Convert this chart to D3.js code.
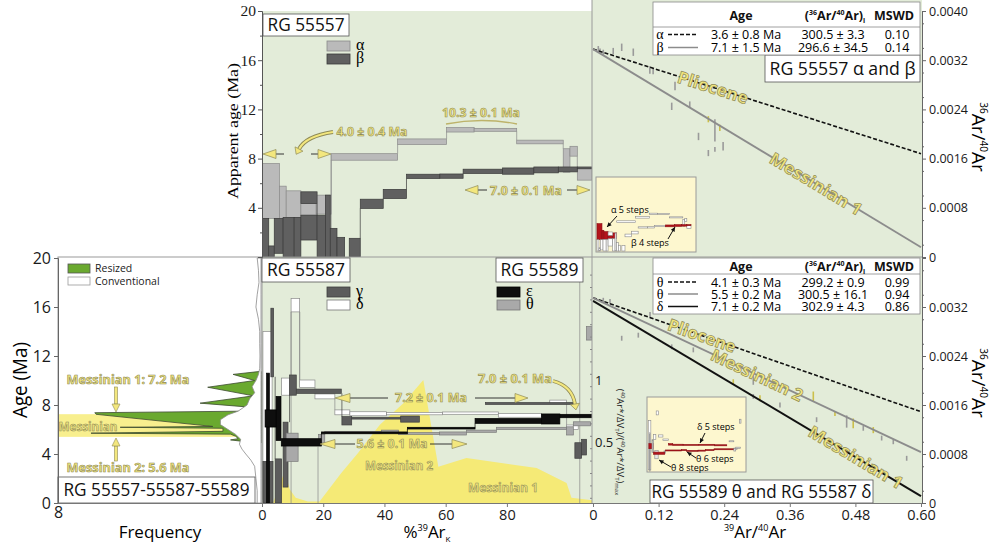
<!DOCTYPE html>
<html>
<head>
<meta charset="utf-8">
<script src="https://cdn.jsdelivr.net/npm/d3@7/dist/d3.min.js"></script>
<style>
body{margin:0;background:#fff;}
svg{display:block;font-family:'Open Sans',sans-serif;}
</style>
</head>
<body>
<svg id="chart" width="996" height="544"></svg>
<script>
// ================= DATA =================
const ageTicks = [0, 4, 8, 12, 16, 20];
const topAgeTicks = [4, 8, 12, 16, 20];
const pctTicks = [0, 20, 40, 60, 80];
const isoXTicks = [0, 0.12, 0.24, 0.36, 0.48, 0.6];
const isoYTicks = [0, 0.0008, 0.0016, 0.0024, 0.0032, 0.004];
const freqTicks = [8, 0];
const relTicks = [0.5, 1];

// age-spectrum steps: [start %39Ar, end %39Ar, age low (Ma), age high (Ma)]
const alphaSteps = [
  [0.0,5.7,3.14,7.6],[5.7,7.9,3.06,5.76],[7.9,12.7,3.22,5.38],[12.7,17.7,3.4,4.35],
  [17.7,22.6,3.49,5.03],[22.6,44.3,7.87,8.4],[44.3,60.3,9.14,9.6],[60.3,69.3,10.16,10.52],
  [69.3,83.2,10.22,10.46],[83.2,98.4,9.2,9.5],[98.4,100.6,6.9,8.8],[100.6,103.0,8.2,9.0],
  [103.0,107.8,6.25,7.2]
];
const betaSteps = [
  [0.0,2.2,0,3.14],[2.2,4.0,0,0.9],[4.0,6.9,0.3,3.14],[6.9,10.5,0,3.22],[10.5,12.7,0,3.22],
  [12.7,18.0,1.38,3.4],[12.7,18.0,4.35,5.3],[18.0,20.7,0,3.4],[20.7,22.3,0,5.03],[22.3,24.5,0,2.33],
  [24.5,27.0,0,1.6],[28.5,32.1,0,1.52],[32.1,39.6,3.95,4.7],[39.6,47.2,4.75,5.5],
  [47.2,58.1,6.38,6.73],[58.1,65.7,6.4,6.75],[65.7,78.6,6.79,7.14],[78.6,88.8,6.73,7.24],
  [88.8,96.8,6.84,7.32],[96.8,103.0,6.92,7.32],[103.0,107.8,7.17,7.32]
];
const gammaSteps = [
  [0.3,3.6,0,3.4],[2.9,3.8,10.3,15.9],[4.3,6.4,0,3.6],[6.9,8.5,1.3,6.6],[9.0,11.2,8.8,10.45],
  [11.2,25.9,8.95,9.3],[26.1,29.3,6.37,7.05],[29.3,45.3,6.85,7.0],[45.3,51.4,6.6,7.1],
  [73.0,101.6,8.05,8.2],[102.2,104.4,3.65,4.92],[104.4,106.0,3.92,5.2]
];
const deltaSteps = [
  [0.3,3.3,0.3,14.0],[6.4,9.1,8.8,10.2],[9.5,12.3,15.6,16.7],[12.3,17.3,9.44,10.04],
  [17.3,23.8,8.5,8.9],[23.8,28.7,7.2,7.6],[28.7,40.7,7.12,7.45],[40.7,59.0,7.2,7.4],
  [59.0,77.2,7.24,7.43],[77.2,91.3,7.0,7.3],[94.0,99.5,8.14,8.4],[99.5,103.3,6.0,6.37]
];
const epsilonSteps = [
  [1.5,2.4,0,10.6],[1.0,5.9,6.2,7.6],[4.6,6.2,5.1,8.7],[6.3,19.4,4.65,5.25],
  [19.4,47.5,5.65,5.8],[47.5,69.6,6.04,6.18],[69.6,91.3,6.5,6.9],[91.3,97.3,6.45,7.27],
  [97.3,107.8,6.96,7.24]
];
const thetaSteps = [
  [7.9,11.8,3.4,5.7],[18.5,20.5,4.9,5.6],[20.5,39.0,5.7,5.85],[39.0,44.6,5.74,5.95],
  [44.6,58.0,5.6,5.75],[58.0,66.8,5.55,5.8],[66.8,76.6,5.77,5.95],[76.6,99.5,6.0,6.18],
  [99.5,101.7,5.55,6.22],[101.7,107.3,6.3,6.63],[106.0,107.8,13.3,14.4]
];
// vertical step-outline guides: [%39Ar, age from, age to]
const topGuides = [[22.6,0,8.4]];
const botGuides = [[103.8,0,18.3],[18.3,0,4.6],[9.5,0,15.6],[12.3,9.44,15.6]];

// normalised release (40Ar*/dVT)/(40Ar*/dVT)max vs %39Ar
const relRelease = [
  [0,0],[3.5,0],[5.0,0.1],[7.5,0.27],[9.0,0.12],[11,0.05],[15,0.02],[18.8,0.02],[25.9,0.25],
  [31.3,0.41],[38.5,0.64],[46.1,0.81],[52.7,1.0],[57.6,0.3],[66.8,0.37],[89.7,0.29],
  [99.5,0.17],[101.1,0.05],[107.8,0.03],[107.8,0]
];

// frequency curves: [age (Ma), frequency]
const resizedFreq = [
  [10.75,0],[10.5,1.1],[10.0,0.25],[9.45,2.1],[8.75,0.3],[8.15,2.4],[7.8,0.3],[7.5,0.6],
  [7.37,6.55],[7.24,6.5],[6.4,2.6],[6.25,1.9],[6.18,5.55],[6.1,1.5],[5.85,1.5],[5.7,6.7],
  [5.62,1.2],[5.45,1.0],[5.25,0.9],[5.15,1.2],[5.05,0.8],[4.9,0]
];
const conventionalFreq = [
  [20,0.15],[19,0.1],[18,0.08],[17,0.15],[16,0.2],[15,0.1],[14,0.05],[13,0.05],[12,0.04],
  [11,0.05],[10.5,0.1],[10,0.2],[9.5,0.35],[9,0.25],[8.5,0.45],[8,0.55],[7.5,0.9],[7.2,1.3],
  [6.8,1.6],[6.4,1.6],[6.0,1.3],[5.6,1.0],[5.2,0.8],[4.8,0.85],[4.4,0.75],[4.0,0.6],
  [3.5,0.4],[3.0,0.25],[2.0,0.2],[1.0,0.15],[0,0.15]
];

// isochron lines: [x0, y0, x1, y1, style]
const topIsoLines = [
  [0,0.00338,0.6,0.00168,'dash'],
  [0,0.00338,0.6,0.00016,'grey']
];
const botIsoLines = [
  [0,0.00335,0.6,0.00149,'dash'],
  [0,0.00335,0.6,0.00083,'grey'],
  [0,0.00330,0.6,0.000114,'black']
];
// line labels: [line index, x position (39Ar/40Ar), text, length px]
const topLineLabels = [[0,0.2195,'Pliocene',73],[1,0.408,'Messinian 1',105]];
const botLineLabels = [[0,0.1994,'Pliocene',71],[1,0.30,'Messinian 2',100],[2,0.481,'Messinian 1',107]];

// isochron data points: [39Ar/40Ar, 36Ar/40Ar, half error, highlighted]
const topIsoPts = [
  [0.0097,0.00338,0.00005,0],[0.0128,0.00335,0.00004,0],[0.0188,0.00333,0.00004,0],
  [0.037,0.00335,0.00005,0],[0.0525,0.00341,0.00006,0],[0.0737,0.00333,0.00006,0],
  [0.104,0.00304,0.00006,0],[0.110,0.00302,0.00005,0],[0.150,0.00278,0.00007,0],
  [0.144,0.00245,0.00006,0],[0.177,0.00248,0.00005,0],[0.211,0.00224,0.00005,1],
  [0.223,0.00206,0.00018,0],[0.232,0.0021,0.00005,1],[0.193,0.00196,0.00006,0],
  [0.211,0.00169,0.00005,0],[0.223,0.00175,0.00004,0],[0.238,0.0018,0.00007,0]
];
const botIsoPts = [
  [0.0188,0.00331,0.00004,0],[0.0311,0.00329,0.00004,0],[0.0525,0.00269,0.00004,0],
  [0.0829,0.00274,0.00004,0],[0.1043,0.00307,0.00005,0],[0.144,0.00255,0.00004,0],
  [0.1835,0.0025,0.00004,0],[0.2566,0.00198,0.00004,1],[0.2932,0.00201,0.00008,0],
  [0.3054,0.00171,0.00005,1],[0.342,0.0016,0.00004,0],[0.403,0.00174,0.00008,1],
  [0.409,0.00136,0.00004,0],[0.4426,0.00146,0.00004,1],[0.464,0.00133,0.0001,0],
  [0.476,0.0013,0.00008,1],[0.4944,0.00122,0.00004,0],[0.5127,0.00119,0.00005,1],
  [0.528,0.00106,0.00004,0],[0.5493,0.001,0.00004,0],[0.5738,0.00073,0.00004,0],
  [0.2932,0.00174,0.00004,0]
];

// tables
const topTableRows = [['α','dash','3.6 ± 0.8 Ma','300.5 ± 3.3','0.10'],['β','grey','7.1 ± 1.5 Ma','296.6 ± 34.5','0.14']];
const botTableRows = [['θ','dash','4.1 ± 0.3 Ma','299.2 ± 0.9','0.99'],['θ','grey','5.5 ± 0.2 Ma','300.5 ± 16.1','0.94'],['δ','black','7.1 ± 0.2 Ma','302.9 ± 4.3','0.86']];

// ================= SCALES =================
const svg = d3.select('#chart');
const xPct = d3.scaleLinear([0,107.8],[262,592]);
const yTop = d3.scaleLinear([0,20],[257,11]);
const yBot = d3.scaleLinear([0,20],[503,258]);
const yRel = d3.scaleLinear([0,1],[504,380]);
const xIso = d3.scaleLinear([0,0.6],[593,921]);
const yIsoTop = d3.scaleLinear([0,0.004],[257,11]);
const yIsoBot = d3.scaleLinear([0,0.004],[503,258]);
const xFreq = d3.scaleLinear([0,8],[261,58]);

const GREEN_BG = '#e3ecd9';
const YEL = '#f3e77e';
const YEL_STROKE = '#8e8a56';

// ================= BACKGROUNDS =================
const bg = svg.append('g');
bg.append('rect').attr('x',262).attr('y',11).attr('width',330).attr('height',246).attr('fill',GREEN_BG);
bg.append('rect').attr('x',592).attr('y',0).attr('width',330).attr('height',257).attr('fill',GREEN_BG);
bg.append('rect').attr('x',262).attr('y',257).attr('width',330).attr('height',246).attr('fill',GREEN_BG);
bg.append('rect').attr('x',592).attr('y',257).attr('width',330).attr('height',246).attr('fill',GREEN_BG);
bg.append('rect').attr('x',58).attr('y',257).attr('width',204).attr('height',246).attr('fill','#fff').attr('stroke','#999');

const defs = svg.append('defs');
function clip(id,x,y,w,h){defs.append('clipPath').attr('id',id).append('rect').attr('x',x).attr('y',y).attr('width',w).attr('height',h);}
clip('cTop',262,11,330,246); clip('cBot',262,257,330,246);
clip('cIsoTop',592,0,330,257); clip('cIsoBot',592,257,330,246);
clip('cFreq',58,257,204,246);

// ================= FREQUENCY PANEL =================
const fq = svg.append('g').attr('clip-path','url(#cFreq)');
fq.append('rect').attr('x',xFreq(8)).attr('y',yBot(7.25)).attr('width',xFreq(0)-xFreq(8)).attr('height',yBot(5.4)-yBot(7.25)).attr('fill','#f8ef8e');
const freqArea = d3.area().y(d=>yBot(d[0])).x0(xFreq(0)).x1(d=>xFreq(d[1]));
fq.append('path').datum(resizedFreq).attr('d',freqArea).attr('fill','#6aa92f').attr('stroke','#3c4a30').attr('stroke-width',0.8);
fq.append('path').datum(conventionalFreq).attr('d',freqArea).attr('fill','#fff').attr('stroke','#8a8a8a').attr('stroke-width',0.8);

// ================= BOTTOM SPECTRA =================
const bs = svg.append('g').attr('clip-path','url(#cBot)');
bs.append('path').datum(relRelease).attr('d',d3.area().x(d=>xPct(d[0])).y0(yRel(0)).y1(d=>yRel(d[1]))).attr('fill','#f5ea76');

function drawSteps(layer, steps, yS, fill, stroke, sw){
  layer.selectAll(null).data(steps).enter().append('rect')
    .attr('x',d=>xPct(d[0])).attr('y',d=>yS(d[3]))
    .attr('width',d=>Math.max(0.8,xPct(d[1])-xPct(d[0])))
    .attr('height',d=>Math.max(0.8,yS(d[2])-yS(d[3])))
    .attr('fill',fill).attr('stroke',stroke).attr('stroke-width',sw||0.7);
  const conn=[];
  for(let i=1;i<steps.length;i++){
    const p=steps[i-1],c=steps[i];
    if(Math.abs(c[0]-p[1])<0.6){
      if(c[2]>p[3]) conn.push([c[0],p[3],c[2]]);
      else if(c[3]<p[2]) conn.push([c[0],c[3],p[2]]);
    }
  }
  layer.selectAll(null).data(conn).enter().append('line')
    .attr('x1',d=>xPct(d[0])).attr('x2',d=>xPct(d[0]))
    .attr('y1',d=>yS(d[1])).attr('y2',d=>yS(d[2]))
    .attr('stroke',stroke).attr('stroke-width',0.7);
}
function drawGuides(layer, guides, yS){
  layer.selectAll(null).data(guides).enter().append('line')
    .attr('x1',d=>xPct(d[0])).attr('x2',d=>xPct(d[0]))
    .attr('y1',d=>yS(d[1])).attr('y2',d=>yS(d[2]))
    .attr('stroke','#888').attr('stroke-width',0.7);
}
drawGuides(bs, botGuides, yBot);
drawSteps(bs, deltaSteps, yBot, '#ffffff', '#8a8a8a');
drawSteps(bs, gammaSteps, yBot, '#5c5c5c', '#3e3e3e');
drawSteps(bs, thetaSteps, yBot, '#a9a9a9', '#7a7a7a');
drawSteps(bs, epsilonSteps, yBot, '#0e0e0e', '#000');

// ================= TOP SPECTRA =================
const ts = svg.append('g').attr('clip-path','url(#cTop)');
drawGuides(ts, topGuides, yTop);
drawSteps(ts, alphaSteps, yTop, '#bababa', '#8a8a8a');
drawSteps(ts, betaSteps, yTop, '#606060', '#3a3a3a');

// ================= ISOCHRONS =================
function lineStyle(sel, s){
  if(s==='dash') sel.attr('stroke','#111').attr('stroke-width',1.6).attr('stroke-dasharray','4,2');
  else if(s==='grey') sel.attr('stroke','#8c8c8c').attr('stroke-width',1.8);
  else sel.attr('stroke','#111').attr('stroke-width',2);
  return sel;
}
function drawIso(clipId, lines, pts, yS, labels){
  const g = svg.append('g').attr('clip-path',`url(#${clipId})`);
  g.selectAll(null).data(pts).enter().append('line')
    .attr('x1',d=>xIso(d[0])).attr('x2',d=>xIso(d[0]))
    .attr('y1',d=>yS(d[1]-d[2])).attr('y2',d=>yS(d[1]+d[2]))
    .attr('stroke',d=>d[3]?'#cbbf4a':'#9a9a9a').attr('stroke-width',1.6);
  lines.forEach(l=>{
    lineStyle(g.append('line').attr('x1',xIso(l[0])).attr('y1',yS(l[1])).attr('x2',xIso(l[2])).attr('y2',yS(l[3])), l[4]);
  });
  labels.forEach(lb=>{
    const l = lines[lb[0]];
    const t = (lb[1]-l[0])/(l[2]-l[0]);
    const yv = l[1]+t*(l[3]-l[1]);
    const ang = Math.atan2(yS(l[3])-yS(l[1]), xIso(l[2])-xIso(l[0]))*180/Math.PI;
    g.append('text').attr('transform',`translate(${xIso(lb[1])},${yS(yv)}) rotate(${ang})`)
      .attr('text-anchor','middle').attr('dy','0.36em')
      .attr('font-size',17).attr('font-weight',700)
      .attr('textLength',lb[3]).attr('lengthAdjust','spacingAndGlyphs')
      .attr('fill',YEL).attr('stroke',YEL_STROKE).attr('stroke-width',0.7).text(lb[2]);
  });
}
drawIso('cIsoTop', topIsoLines, topIsoPts, yIsoTop, topLineLabels);
drawIso('cIsoBot', botIsoLines, botIsoPts, yIsoBot, botLineLabels);

// panel borders
const fr = svg.append('g').attr('fill','none').attr('stroke','#9a9a9a').attr('stroke-width',1);
fr.append('line').attr('x1',592).attr('x2',592).attr('y1',0).attr('y2',503);
fr.append('line').attr('x1',262).attr('x2',922).attr('y1',257).attr('y2',257);

// ================= INSETS =================
function inset(x0,y0,w,h, series){
  const g = svg.append('g');
  g.append('rect').attr('x',x0).attr('y',y0).attr('width',w).attr('height',h).attr('fill','#fdf7cf').attr('stroke','#9a9a9a');
  const xm = d3.scaleLinear([0,107.8],[x0+1,x0+w-5]);
  const ym = d3.scaleLinear([0,20.3],[y0+h-1,y0+1]);
  series.forEach(s=>{
    g.selectAll(null).data(s.steps).enter().append('rect')
      .attr('x',d=>xm(d[0])).attr('y',d=>ym(d[3]))
      .attr('width',d=>Math.max(0.6,xm(d[1])-xm(d[0]))).attr('height',d=>Math.max(1,ym(d[2])-ym(d[3])))
      .attr('fill',(d,i)=>s.hi.includes(i)?'#b3141c':s.fill).attr('stroke',(d,i)=>s.hi.includes(i)?'#8a0d12':'#8a8a8a').attr('stroke-width',0.6);
  });
  return g;
}
function smallArrow(g,x1,y1,x2,y2){
  g.append('line').attr('x1',x1).attr('y1',y1).attr('x2',x2).attr('y2',y2).attr('stroke','#111').attr('stroke-width',1);
  const a=Math.atan2(y2-y1,x2-x1), L=5;
  const p=[[x2,y2],[x2-L*Math.cos(a-0.45),y2-L*Math.sin(a-0.45)],[x2-L*Math.cos(a+0.45),y2-L*Math.sin(a+0.45)]];
  g.append('polygon').attr('points',p.map(q=>q.join(',')).join(' ')).attr('fill','#111');
}
const in1 = inset(596,177,100,75,[
  {steps:alphaSteps, fill:'#fff', hi:[0,1,2,3,4]},
  {steps:betaSteps, fill:'#fff', hi:[17,18,19,20]}
]);
in1.append('text').attr('x',611).attr('y',213).attr('font-size',9).text('α 5 steps');
in1.append('text').attr('x',631).attr('y',246).attr('font-size',9).text('β 4 steps');
smallArrow(in1,617,216,607,227); smallArrow(in1,668,239,675,227);

const in2 = inset(647,397,99,75,[
  {steps:deltaSteps, fill:'#fff', hi:[5,6,7,8,9]},
  {steps:thetaSteps, fill:'#e6e6e6', hi:[2,3,4,5,6,7]},
  {steps:epsilonSteps.slice(0,4), fill:'#bbb', hi:[1,3]}
]);
in2.append('text').attr('x',697).attr('y',430).attr('font-size',9).text('δ 5 steps');
in2.append('text').attr('x',696).attr('y',462).attr('font-size',9).text('θ 6 steps');
in2.append('text').attr('x',671).attr('y',471).attr('font-size',9).text('θ 8 steps');
smallArrow(in2,705,433,700,443); smallArrow(in2,696,458,687,452); smallArrow(in2,671,467,659,460);

// ================= LABEL BOXES =================
function box(x,y,w,h,txt,size,len){
  svg.append('rect').attr('x',x).attr('y',y).attr('width',w).attr('height',h).attr('fill','#fff').attr('stroke','#555').attr('stroke-width',0.8);
  svg.append('text').attr('x',x+w/2).attr('y',y+h/2).attr('dy','0.36em').attr('text-anchor','middle')
    .attr('font-size',size).attr('textLength',len).attr('lengthAdjust','spacingAndGlyphs').attr('fill','#111').text(txt);
}
box(263,14,86,22,'RG 55557',18,77);
box(262,258,88,24,'RG 55587',18,78);
box(496,258,87,24,'RG 55589',18,78);
box(58,477,197,26,'RG 55557-55587-55589',18,186);
box(765,55,155,27,'RG 55557 α and β',18,146);
box(650,480,223,23,'RG 55589 θ and RG 55587 δ',18,220);

// ================= TABLES =================
function table(y0,h,headerY,lineY,rows,rowYs){
  const g = svg.append('g');
  g.append('rect').attr('x',653).attr('y',y0).attr('width',267).attr('height',h).attr('fill','#fff').attr('stroke','#888').attr('stroke-width',0.8);
  g.append('line').attr('x1',653).attr('x2',920).attr('y1',lineY).attr('y2',lineY).attr('stroke','#888').attr('stroke-width',0.8);
  const hd = g.append('g').attr('font-weight',700).attr('font-size',12.5).attr('text-anchor','middle').attr('fill','#111');
  hd.append('text').attr('x',741).attr('y',headerY).text('Age');
  const r = hd.append('text').attr('x',835).attr('y',headerY);
  r.append('tspan').text('(');
  r.append('tspan').attr('font-size',7).attr('dy',-5).text('36');
  r.append('tspan').attr('dy',5).text('Ar/');
  r.append('tspan').attr('font-size',7).attr('dy',-5).text('40');
  r.append('tspan').attr('dy',5).text('Ar)');
  r.append('tspan').attr('font-size',7).attr('dy',3).text('i');
  hd.append('text').attr('x',894).attr('y',headerY).text('MSWD');
  rows.forEach((row,i)=>{
    const y=rowYs[i];
    g.append('text').attr('x',660).attr('y',y).attr('text-anchor','middle').attr('font-family','Liberation Serif').attr('font-size',14).text(row[0]);
    lineStyle(g.append('line').attr('x1',668).attr('x2',698).attr('y1',y-4.5).attr('y2',y-4.5), row[1]).attr('stroke-width',row[1]==='dash'?1.6:1.5);
    g.append('text').attr('x',746).attr('y',y).attr('text-anchor','middle').attr('font-size',12.5).text(row[2]);
    g.append('text').attr('x',833).attr('y',y).attr('text-anchor','middle').attr('font-size',12.5).text(row[3]);
    g.append('text').attr('x',897).attr('y',y).attr('text-anchor','middle').attr('font-size',12.5).text(row[4]);
  });
}
table(2,53,20,27,topTableRows,[39,52]);
table(258,56,271,274,botTableRows,[286.5,298.5,311]);

// ================= LEGENDS =================
const lg = svg.append('g');
function legItem(x,y,fill,stroke,label,font,size,lx){
  lg.append('rect').attr('x',x).attr('y',y).attr('width',23).attr('height',10).attr('fill',fill).attr('stroke',stroke).attr('stroke-width',0.8);
  lg.append('text').attr('x',lx||x+29).attr('y',y+9).attr('font-family',font).attr('font-size',size).text(label);
}
legItem(327,41,'#bababa','#8a8a8a','α','Liberation Serif',16);
legItem(327,54,'#606060','#3a3a3a','β','Liberation Serif',16);
legItem(327,287,'#5c5c5c','#3e3e3e','γ','Liberation Serif',16);
legItem(327,300,'#ffffff','#777','δ','Liberation Serif',16);
legItem(497,287,'#0e0e0e','#000','ε','Liberation Serif',16);
legItem(497,300,'#a9a9a9','#777','θ','Liberation Serif',16);
lg.append('rect').attr('x',68).attr('y',264).attr('width',22).attr('height',9).attr('fill','#6aa92f').attr('stroke','#555').attr('stroke-width',0.8);
lg.append('rect').attr('x',68).attr('y',277).attr('width',22).attr('height',8).attr('fill','#fff').attr('stroke','#999').attr('stroke-width',0.8);
lg.append('text').attr('x',95).attr('y',272).attr('font-size',10.5).attr('fill','#222').text('Resized');
lg.append('text').attr('x',95).attr('y',285).attr('font-size',10.5).attr('fill','#222').text('Conventional');

// ================= AXES =================
function axis(gen,tx,ty,font,size,color){
  const g = svg.append('g').attr('transform',`translate(${tx},${ty})`).call(gen);
  g.selectAll('text').attr('font-family',font).attr('font-size',size).attr('fill','#1a1a1a');
  g.selectAll('line').attr('stroke',color||'#666');
  g.select('.domain').attr('stroke',color||'#666');
  return g;
}
axis(d3.axisLeft(yTop).tickValues(topAgeTicks).tickSize(4).tickPadding(2),262,0,'Liberation Serif',15.5,'#555');
axis(d3.axisLeft(yTop).tickValues([2,6,10,14,18]).tickSize(2).tickFormat(''),262,0,'Liberation Serif',16,'#555').select('.domain').remove();
axis(d3.axisLeft(yBot).tickValues(ageTicks).tickSize(4).tickPadding(3),58,0,'Open Sans',16,'#666');
axis(d3.axisBottom(xPct).tickValues(pctTicks).tickSize(4).tickPadding(3),0,503,'Open Sans',14.5,'#777').select('.domain').remove();
axis(d3.axisBottom(xIso).tickValues(isoXTicks).tickSize(4).tickPadding(3).tickFormat(d=>d===0?'0':d.toFixed(2)),0,503,'Open Sans',14.5,'#777').select('.domain').remove();
// frequency axis: its "0" coincides with the %39Ar "0", so only one label is written
axis(d3.axisBottom(xFreq).tickValues(freqTicks).tickSize(0).tickPadding(4).tickFormat(d=>d===0?'':d),0,503,'Open Sans',16,'#777').select('.domain').remove();
svg.append('line').attr('x1',58).attr('x2',922).attr('y1',503.5).attr('y2',503.5).attr('stroke','#777');
const fmtIso = d=>d===0?'0':d.toFixed(4);
axis(d3.axisRight(yIsoTop).tickValues(isoYTicks).tickSize(4).tickPadding(3).tickFormat(fmtIso),922,0,'Open Sans',12.5,'#666');
axis(d3.axisRight(yIsoTop).tickValues(d3.range(0.0002,0.004,0.0004)).tickSize(2).tickFormat(''),922,0,'Open Sans',12,'#666');
axis(d3.axisRight(yIsoBot).tickValues(isoYTicks.slice(0,5)).tickSize(4).tickPadding(3).tickFormat(fmtIso),922,0,'Open Sans',12.5,'#666');
axis(d3.axisRight(yIsoBot).tickValues(d3.range(0.0002,0.004,0.0004)).tickSize(2).tickFormat(''),922,0,'Open Sans',12,'#666');
axis(d3.axisRight(yRel).tickValues(relTicks).tickSize(0).tickPadding(3).tickFormat(d3.format('~g')),592,0,'Open Sans',13,'#666').select('.domain').remove();
axis(d3.axisLeft(yRel).tickValues(d3.range(0.05,1.95,0.1)).tickSize(2).tickFormat(''),592,0,'Open Sans',12,'#888').select('.domain').remove();

// axis titles
svg.append('text').attr('transform','translate(238,131) rotate(-90)').attr('text-anchor','middle')
  .attr('font-family','Liberation Serif').attr('font-size',15.5).attr('textLength',136).attr('lengthAdjust','spacingAndGlyphs').text('Apparent age (Ma)');
svg.append('text').attr('transform','translate(27,380) rotate(-90)').attr('text-anchor','middle')
  .attr('font-size',20).attr('textLength',76).attr('lengthAdjust','spacingAndGlyphs').text('Age (Ma)');
svg.append('text').attr('x',160).attr('y',538).attr('text-anchor','middle').attr('font-size',17).text('Frequency');
const tp = svg.append('text').attr('x',427).attr('y',538).attr('text-anchor','middle').attr('font-size',17);
tp.append('tspan').text('%'); tp.append('tspan').attr('font-size',9).attr('dy',-7).text('39');
tp.append('tspan').attr('dy',7).text('Ar'); tp.append('tspan').attr('font-size',8).attr('dy',4).text('K');
const ti = svg.append('text').attr('x',755).attr('y',538).attr('text-anchor','middle').attr('font-size',17);
ti.append('tspan').attr('font-size',9).attr('dy',-7).text('39'); ti.append('tspan').attr('dy',7).text('Ar/');
ti.append('tspan').attr('font-size',9).attr('dy',-7).text('40'); ti.append('tspan').attr('dy',7).text('Ar');
function rightTitle(cy){
  const t = svg.append('text').attr('transform',`translate(972,${cy}) rotate(90)`).attr('text-anchor','middle').attr('font-size',19);
  t.append('tspan').attr('font-size',10).attr('dy',-8).text('36'); t.append('tspan').attr('dy',8).text('Ar/');
  t.append('tspan').attr('font-size',10).attr('dy',-8).text('40'); t.append('tspan').attr('dy',8).text('Ar');
}
rightTitle(137); rightTitle(383);
const rl = svg.append('text').attr('transform','translate(617,442) rotate(90)').attr('text-anchor','middle').attr('font-size',9.5).attr('fill','#222');
rl.append('tspan').text('(');rl.append('tspan').attr('font-size',6).attr('dy',-4).text('40');rl.append('tspan').attr('dy',4).text('Ar*/ΔV');
rl.append('tspan').attr('font-size',6).attr('dy',2).text('T');rl.append('tspan').attr('dy',-2).text(')/(');
rl.append('tspan').attr('font-size',6).attr('dy',-4).text('40');rl.append('tspan').attr('dy',4).text('Ar*/ΔV');
rl.append('tspan').attr('font-size',6).attr('dy',2).text('T');rl.append('tspan').attr('dy',-2).text(')');
rl.append('tspan').attr('font-size',6).attr('dy',2).text('max');

// ================= ANNOTATIONS =================
const an = svg.append('g');
function ytext(x,y,s,size,len){
  an.append('text').attr('x',x).attr('y',y).attr('text-anchor','middle').attr('font-size',size).attr('font-weight',700)
    .attr('textLength',len).attr('lengthAdjust','spacingAndGlyphs')
    .attr('fill',YEL).attr('stroke',YEL_STROKE).attr('stroke-width',0.6).text(s);
}
function yHead(tipX,y,dir,len){ // dir -1 points left, +1 right
  const b = tipX - dir*len;
  an.append('polygon').attr('points',`${tipX},${y} ${b},${y-4.5} ${b},${y+4.5}`).attr('fill',YEL).attr('stroke',YEL_STROKE).attr('stroke-width',0.7);
}
function hLine(x1,x2,y){ an.append('line').attr('x1',x1).attr('x2',x2).attr('y1',y).attr('y2',y).attr('stroke','#222').attr('stroke-width',0.9); }
function curveArrow(x0,y0,cx,cy,x1,y1){
  const d=`M${x0},${y0} Q${cx},${cy} ${x1},${y1}`;
  an.append('path').attr('d',d).attr('fill','none').attr('stroke',YEL_STROKE).attr('stroke-width',3.8);
  an.append('path').attr('d',d).attr('fill','none').attr('stroke',YEL).attr('stroke-width',2.2);
  const dx=x1-cx, dy=y1-cy, n=Math.hypot(dx,dy), ux=dx/n, uy=dy/n, px=-uy, py=ux;
  const tip=[x1+ux*6,y1+uy*6];
  an.append('polygon').attr('points',`${tip[0]},${tip[1]} ${x1+px*4.5},${y1+py*4.5} ${x1-px*4.5},${y1-py*4.5}`).attr('fill',YEL).attr('stroke',YEL_STROKE).attr('stroke-width',0.7);
}
// top spectra
ytext(372,136,'4.0 ± 0.4 Ma',13,71);
curveArrow(333,132,306,136,299,149);
hLine(276,284,154); yHead(263,154,-1,13);
hLine(311,318,154); yHead(331,154,1,13);
ytext(481,117,'10.3 ± 0.1 Ma',13,78);
an.append('path').attr('d','M446,124 Q482,117 517,124').attr('fill','none').attr('stroke','#bdb36a').attr('stroke-width',1.3);
ytext(526,195,'7.0 ± 0.1 Ma',13,72);
hLine(478,487,190); yHead(465,190,-1,13);
hLine(567,577,190); yHead(590,190,1,13);
// bottom spectra
ytext(431,402,'7.2 ± 0.1 Ma',13,72);
hLine(350,388,398); yHead(335,398,-1,15);
hLine(475,515,398); yHead(528,398,1,13);
ytext(392,448,'5.6 ± 0.1 Ma',13,71);
hLine(335,355,444); yHead(320,444,-1,15);
hLine(430,452,444); yHead(467,444,1,15);
ytext(515,383,'7.0 ± 0.1 Ma',13,74);
curveArrow(553,381,572,386,575,404);
ytext(399,470,'Messinian 2',13,68);
ytext(503,492,'Messinian 1',13,70);
// frequency panel
ytext(128,384,'Messinian 1:   7.2 Ma',13,123);
ytext(128,472,'Messinian 2:   5.6 Ma',13,123);
ytext(88,431,'Messinian',13,59);
function vArrow(x,y0,y1){
  const dir = y1>y0?1:-1, hb = y1-dir*8;
  an.append('rect').attr('x',x-1.5).attr('y',Math.min(y0,hb)).attr('width',3).attr('height',Math.abs(hb-y0)).attr('fill',YEL).attr('stroke',YEL_STROKE).attr('stroke-width',0.6);
  an.append('polygon').attr('points',`${x},${y1} ${x-4},${hb} ${x+4},${hb}`).attr('fill',YEL).attr('stroke',YEL_STROKE).attr('stroke-width',0.6);
}
vArrow(116,387,412); vArrow(116,461,438);
</script>
</body>
</html>
